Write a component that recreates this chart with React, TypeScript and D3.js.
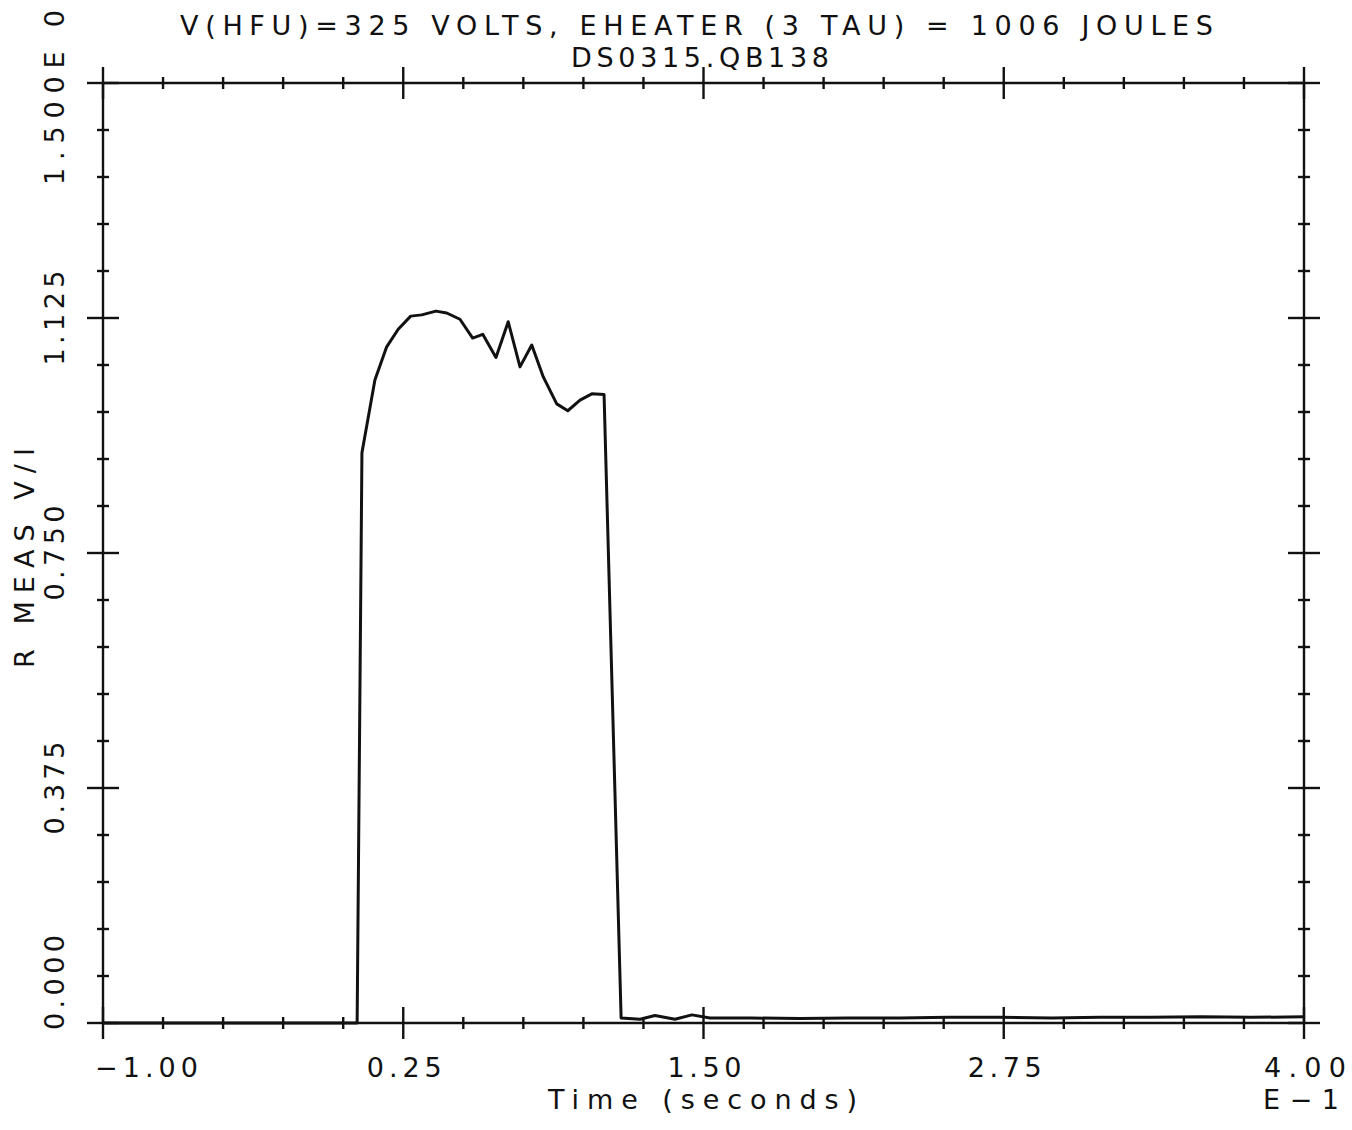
import React from "react";
import * as d3 from "d3";

// Measured resistance trace R = V/I over time (x-axis in units of 1E-1 s)
const timeValues = [
  -1.0, 0.058, 0.078, 0.132, 0.181, 0.229, 0.281, 0.327, 0.386, 0.431, 0.486,
  0.539, 0.581, 0.636, 0.687, 0.736, 0.785, 0.833, 0.889, 0.935, 0.986, 1.035,
  1.086, 1.157, 1.236, 1.298, 1.381, 1.452, 1.527, 1.70, 1.90, 2.10, 2.32,
  2.52, 2.73, 2.95, 3.15, 3.36, 3.57, 3.78, 4.0,
];
const resistanceValues = [
  0.0, 0.0, 0.91, 1.026, 1.079, 1.107, 1.128, 1.13, 1.136, 1.133, 1.123, 1.093,
  1.099, 1.062, 1.119, 1.047, 1.082, 1.031, 0.988, 0.977, 0.994, 1.004, 1.003,
  0.008, 0.006, 0.012, 0.006, 0.013, 0.008, 0.008, 0.007, 0.008, 0.008, 0.009,
  0.009, 0.008, 0.009, 0.009, 0.01, 0.009, 0.01,
];

const xTickValues = [-1.0, 0.25, 1.5, 2.75, 4.0];
const xTickLabels = ["\u22121.00", "0.25", "1.50", "2.75", "4.00"];
const yTickValues = [0, 0.375, 0.75, 1.125, 1.5];
const yTickLabels = ["0.000", "0.375", "0.750", "1.125", "1.500E 0"];

const titleLines = [
  "V(HFU)=325 VOLTS, EHEATER (3 TAU) = 1006 JOULES",
  "DS0315.QB138",
];
const xAxisTitle = "Time (seconds)";
const xAxisExponent = "E\u22121";
const yAxisTitle = "R MEAS V/I";

const W = 1352;
const H = 1130;
const INK = "#111";
const FONT = "'DejaVu Sans', Verdana, sans-serif";
const textStyle: React.CSSProperties = {
  fontFamily: FONT,
  fontSize: 27,
  fill: INK,
  whiteSpace: "pre",
};

// Plotter-style label: fixed overall run length, evenly spaced glyphs
function PlotText(props: {
  x?: number;
  y?: number;
  transform?: string;
  len: number;
  children: string;
}) {
  const { x, y, transform, len, children } = props;
  return (
    <text
      x={x}
      y={y}
      transform={transform}
      textAnchor="start"
      textLength={len}
      lengthAdjust="spacing"
      style={textStyle}
    >
      {children}
    </text>
  );
}

export default function App() {
  const x = d3.scaleLinear().domain([-1, 4]).range([103, 1304]);
  const y = d3.scaleLinear().domain([0, 1.5]).range([1023, 83]);

  const [x0, x1] = x.range();
  const [yb, yt] = y.range();

  const xMinor = d3.range(-1, 4.0001, 0.25).filter(
    (v) => !xTickValues.some((t) => Math.abs(t - v) < 1e-6)
  );
  const yMinor = d3.range(0, 1.5001, 0.075).filter(
    (v) => !yTickValues.some((t) => Math.abs(t - v) < 1e-6)
  );

  const MAJ = 16;
  const MIN = 6;

  const line = d3
    .line<number>()
    .x((_, i) => x(timeValues[i]))
    .y((d) => y(d));

  const xLabelLen = [103, 75, 74, 74, 82];
  const yLabelLen = [95, 93, 95, 95, 175];

  return (
    <svg
      width={W}
      height={H}
      style={{ position: "absolute", left: 0, top: 0, display: "block", background: "#fff" }}
    >
      <rect x={0} y={0} width={W} height={H} fill="#fff" />

      {/* frame */}
      <g stroke={INK} strokeWidth={2.4} fill="none">
        <line x1={x0} x2={x1} y1={yb} y2={yb} />
        <line x1={x0} x2={x1} y1={yt} y2={yt} />
        <line x1={x0} x2={x0} y1={yb} y2={yt} />
        <line x1={x1} x2={x1} y1={yb} y2={yt} />

        {/* horizontal axes ticks (bottom and top) */}
        {xTickValues.map((v) => (
          <g key={"xM" + v}>
            <line x1={x(v)} x2={x(v)} y1={yb - MAJ} y2={yb + MAJ} />
            <line x1={x(v)} x2={x(v)} y1={yt - MAJ} y2={yt + MAJ} />
          </g>
        ))}
        {xMinor.map((v) => (
          <g key={"xm" + v}>
            <line x1={x(v)} x2={x(v)} y1={yb - MIN} y2={yb + MIN} />
            <line x1={x(v)} x2={x(v)} y1={yt - MIN} y2={yt + MIN} />
          </g>
        ))}

        {/* vertical axes ticks (left and right) */}
        {yTickValues.map((v) => (
          <g key={"yM" + v}>
            <line x1={x0 - MAJ} x2={x0 + MAJ} y1={y(v)} y2={y(v)} />
            <line x1={x1 - MAJ} x2={x1 + MAJ} y1={y(v)} y2={y(v)} />
          </g>
        ))}
        {yMinor.map((v) => (
          <g key={"ym" + v}>
            <line x1={x0 - MIN} x2={x0 + MIN} y1={y(v)} y2={y(v)} />
            <line x1={x1 - MIN} x2={x1 + MIN} y1={y(v)} y2={y(v)} />
          </g>
        ))}
      </g>

      {/* data trace */}
      <path
        d={line(resistanceValues) || ""}
        fill="none"
        stroke={INK}
        strokeWidth={3}
        strokeLinejoin="round"
      />

      {/* title */}
      <PlotText x={180} y={35} len={1033}>
        {titleLines[0]}
      </PlotText>
      <PlotText x={571} y={67} len={258}>
        {titleLines[1]}
      </PlotText>

      {/* x tick labels */}
      {xTickValues.map((v, i) => {
        const first = i === 0;
        const sx = first ? x(v) - 8 : x(v) + 1 - xLabelLen[i] / 2;
        return (
          <PlotText key={"xl" + v} x={sx} y={1077} len={xLabelLen[i]}>
            {xTickLabels[i]}
          </PlotText>
        );
      })}
      <PlotText x={1263} y={1109} len={76}>
        {xAxisExponent}
      </PlotText>
      <PlotText x={548} y={1109} len={309}>
        {xAxisTitle}
      </PlotText>

      {/* y tick labels (rotated, reading upward) */}
      {yTickValues.map((v, i) => {
        const first = i === 0;
        const last = i === yTickValues.length - 1;
        const startY = first
          ? y(v) + 7
          : last
          ? y(v) + 102
          : y(v) + yLabelLen[i] / 2;
        return (
          <PlotText
            key={"yl" + v}
            transform={`translate(64,${startY}) rotate(-90)`}
            len={yLabelLen[i]}
          >
            {yTickLabels[i]}
          </PlotText>
        );
      })}
      <PlotText transform={`translate(34,668) rotate(-90)`} len={220}>
        {yAxisTitle}
      </PlotText>
    </svg>
  );
}
